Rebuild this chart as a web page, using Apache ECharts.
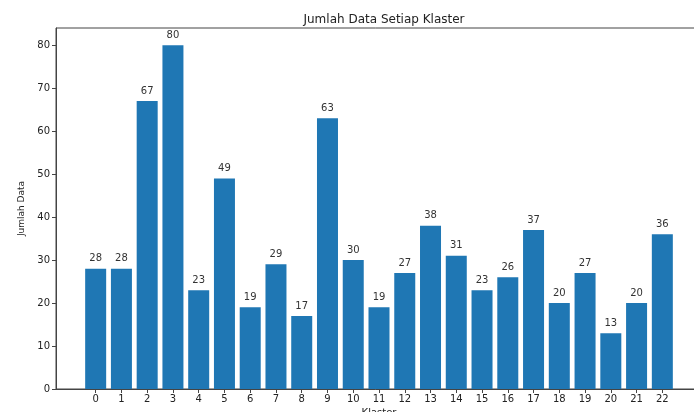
<!DOCTYPE html>
<html>
<head>
<meta charset="utf-8">
<script src="https://cdn.jsdelivr.net/npm/echarts@6/dist/echarts.min.js"></script>
<style>html,body{margin:0;padding:0;background:#fff}#c{width:694px;height:412px}</style>
</head>
<body>
<div id="c"></div>
<script>
const categories = ['0','1','2','3','4','5','6','7','8','9','10','11','12','13','14','15','16','17','18','19','20','21','22'];
const values = [28,28,67,80,23,49,19,29,17,63,30,19,27,38,31,23,26,37,20,27,13,20,36];
const yTicks = [0,10,20,30,40,50,60,70,80];

const xPos = categories.map((c, i) => i);
const barData = values.map((v, i) => [xPos[i], v]);
const font = 'DejaVu Sans';

const chart = echarts.init(document.getElementById('c'));
chart.setOption({
  animation: false,
  title: {
    text: 'Jumlah Data Setiap Klaster',
    left: 379, top: 9, textAlign: 'center',
    textStyle: { fontFamily: font, fontSize: 12, fontWeight: 'normal', color: '#222' }
  },
  grid: {
    left: 56, top: 28, right: -8, bottom: 23,
    containLabel: false, outerBoundsMode: 'none',
    show: true, borderColor: '#444', borderWidth: 1, backgroundColor: 'transparent'
  },
  xAxis: {
    type: 'value', min: -1.54, max: 23.54,
    name: 'Klaster', nameLocation: 'middle', nameGap: 19,
    nameTextStyle: { fontFamily: font, fontSize: 10, color: '#222' },
    axisLine: { show: true, onZero: false, lineStyle: { color: '#444', width: 1 } },
    axisTick: { show: true, length: 4, customValues: xPos, lineStyle: { color: '#444' } },
    axisLabel: {
      customValues: xPos, margin: 5,
      formatter: v => categories[Math.round(v)],
      fontFamily: font, fontSize: 10, color: '#222'
    },
    splitLine: { show: false }
  },
  yAxis: {
    type: 'value', min: 0, max: 84,
    name: 'Jumlah Data', nameLocation: 'middle', nameGap: 29, nameRotate: 90,
    nameTextStyle: { fontFamily: font, fontSize: 9, color: '#222' },
    axisLine: { show: true, onZero: false, lineStyle: { color: '#444', width: 1 } },
    axisTick: { show: true, length: 4, customValues: yTicks, lineStyle: { color: '#444' } },
    axisLabel: { customValues: yTicks, margin: 6, fontFamily: font, fontSize: 10, color: '#222' },
    splitLine: { show: false }
  },
  series: [{
    type: 'bar',
    data: barData,
    barWidth: 21,
    itemStyle: { color: '#1f77b4' },
    label: { show: true, position: 'top', distance: 5, fontFamily: font, fontSize: 10, color: '#333' }
  }]
});
</script>
</body>
</html>
